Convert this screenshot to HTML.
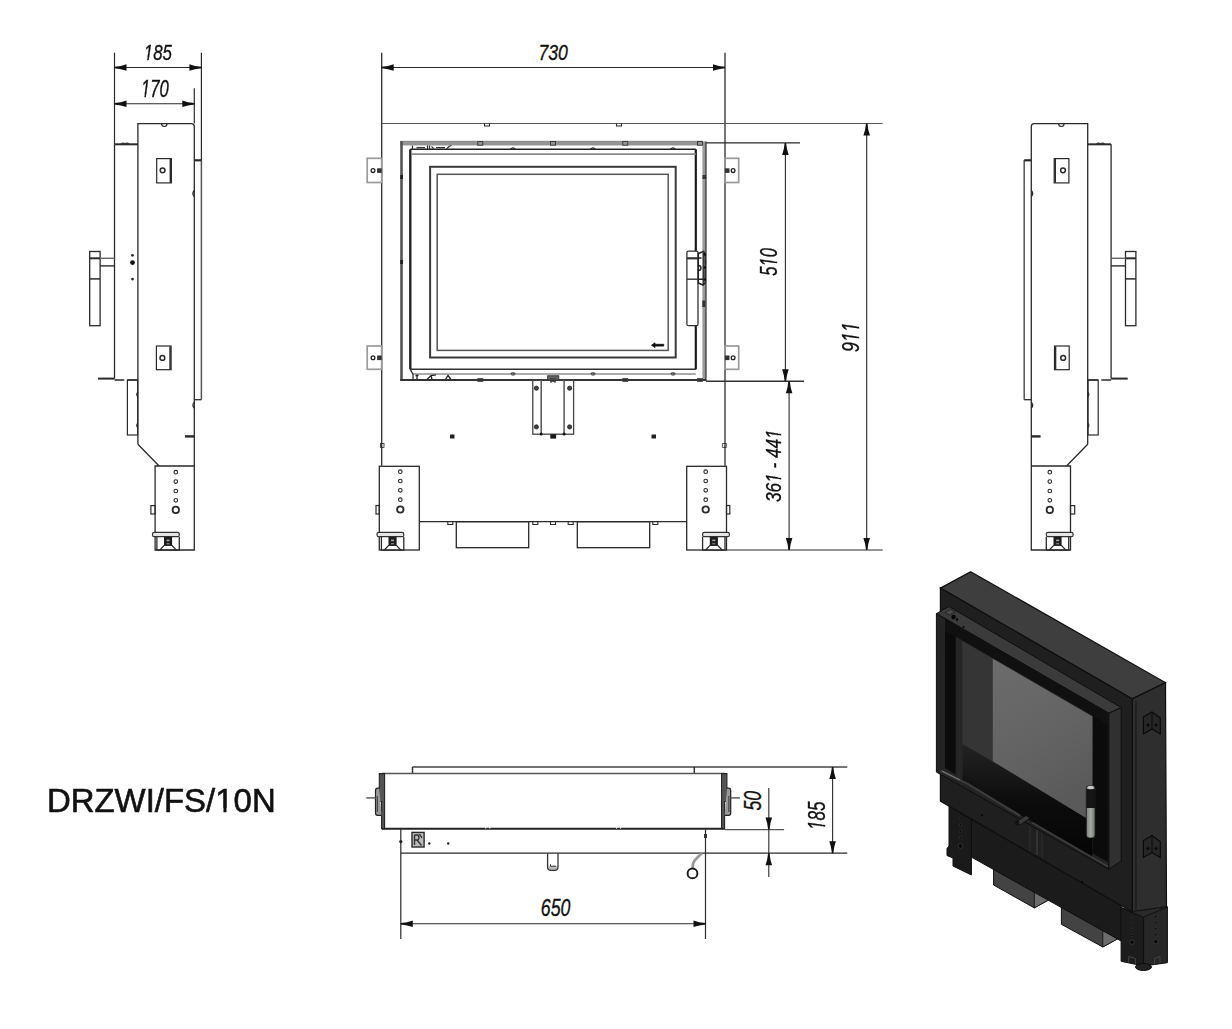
<!DOCTYPE html><html><head><meta charset="utf-8"><style>html,body{margin:0;padding:0;background:#fff;}svg{display:block;} .d{font-family:"Liberation Sans",sans-serif;font-style:italic;fill:#111;stroke:#111;stroke-width:0.35;} .t{font-family:"Liberation Sans",sans-serif;fill:#111;}</style></head><body>
<svg width="1232" height="1029" viewBox="0 0 1232 1029">
<rect width="1232" height="1029" fill="#fff"/>
<g id="side">
<path d="M137.9,444.3 L137.9,123.6 L191.3,123.6 Q194.3,123.6 194.3,126.6 L194.3,550 L155.1,550 L155.1,466 L194.3,466 M137.9,444.3 L158.6,465.5" stroke="#2a2a2a" stroke-width="1.3" fill="none"/>
<line x1="114.5" y1="144.3" x2="114.5" y2="378.6" stroke="#2a2a2a" stroke-width="1.3"/>
<line x1="114.5" y1="144.3" x2="137.9" y2="144.3" stroke="#2a2a2a" stroke-width="2.0"/>
<line x1="97.9" y1="378.6" x2="114.5" y2="378.6" stroke="#2a2a2a" stroke-width="2.0"/>
<path d="M114.5,380 L124.3,380 M127.4,380 L137.9,380" stroke="#2a2a2a" stroke-width="1.6" fill="none"/>
<rect x="127.4" y="380" width="10.2" height="55" stroke="#2a2a2a" stroke-width="1.2" fill="none"/>
<line x1="201.4" y1="160" x2="201.4" y2="399.7" stroke="#555" stroke-width="1.5"/>
<line x1="194.3" y1="399.7" x2="201.4" y2="399.7" stroke="#2a2a2a" stroke-width="1.3"/>
<line x1="194.3" y1="160.3" x2="201.4" y2="160.3" stroke="#2a2a2a" stroke-width="2.2"/>
<line x1="185" y1="436.4" x2="194.5" y2="436.4" stroke="#2a2a2a" stroke-width="2.4"/>
<rect x="156.7" y="158.6" width="14.7" height="24.3" stroke="#2a2a2a" stroke-width="1.2" fill="none"/>
<line x1="170.4" y1="159" x2="170.4" y2="182.5" stroke="#2a2a2a" stroke-width="1.6"/>
<circle cx="162.6" cy="170.3" r="2.4" stroke="#2a2a2a" stroke-width="1.5" fill="none"/>
<rect x="156.4" y="346" width="14.7" height="23.7" stroke="#2a2a2a" stroke-width="1.2" fill="none"/>
<line x1="170.1" y1="346.5" x2="170.1" y2="369.3" stroke="#2a2a2a" stroke-width="1.6"/>
<circle cx="162.4" cy="357.9" r="2.4" stroke="#2a2a2a" stroke-width="1.5" fill="none"/>
<rect x="89.7" y="251.5" width="10.4" height="74.2" stroke="#2a2a2a" stroke-width="1.3" fill="none"/>
<line x1="89.7" y1="258.3" x2="100.1" y2="258.3" stroke="#2a2a2a" stroke-width="2.0"/>
<line x1="89.7" y1="278.9" x2="100.1" y2="278.9" stroke="#2a2a2a" stroke-width="1.5"/>
<line x1="100.1" y1="258.3" x2="114.5" y2="258.3" stroke="#666" stroke-width="1.4"/>
<line x1="100.1" y1="265.9" x2="114.5" y2="265.9" stroke="#2a2a2a" stroke-width="1.4"/>
<circle cx="175.8" cy="472.2" r="1.8" stroke="#2a2a2a" stroke-width="1.1" fill="none"/>
<circle cx="175.8" cy="481.6" r="1.8" stroke="#2a2a2a" stroke-width="1.1" fill="none"/>
<circle cx="175.8" cy="491" r="1.8" stroke="#2a2a2a" stroke-width="1.1" fill="none"/>
<circle cx="175.8" cy="500.3" r="1.8" stroke="#2a2a2a" stroke-width="1.1" fill="none"/>
<circle cx="175.8" cy="509.9" r="3.2" stroke="#2a2a2a" stroke-width="1.8" fill="none"/>
<rect x="150.9" y="505.6" width="4.2" height="8.4" stroke="#2a2a2a" stroke-width="1.2" fill="none"/>
<path d="M161.5,123.6 Q161.5,126.5 164.3,126.5 Q167,126.5 167,123.6" stroke="#2a2a2a" stroke-width="1.2" fill="none"/>
<path d="M194.3,190.5 Q191.5,193.6 194.3,196.5" stroke="#2a2a2a" stroke-width="1.3" fill="none"/>
<path d="M121,144.3 Q123,141.8 125,144.3 Q127,141.8 129,144.3" stroke="#333" stroke-width="1.3" fill="none"/>
<path d="M194.3,402.5 Q191.5,405 194.3,408" stroke="#2a2a2a" stroke-width="1.3" fill="none"/>
<path d="M137.9,392 Q135.5,394.5 137.9,397 M137.9,423 Q135.5,425.5 137.9,428" stroke="#2a2a2a" stroke-width="1.1" fill="none"/>
<rect x="152.5" y="532.3" width="26.8" height="4.4" rx="1.8" fill="#e6e6e6" stroke="#333" stroke-width="1.2"/>
<path d="M156.9,536.7 L156.9,550.2 L179.3,550.2 L179.3,536.7" stroke="#2a2a2a" stroke-width="1.3" fill="none"/>
<rect x="164.0" y="536.9" width="8.1" height="8.6" fill="#1c1c1c"/>
<rect x="166.5" y="539.6" width="3" height="1.6" fill="#aaa"/>
<rect x="166.5" y="543" width="3" height="1.4" fill="#777"/>
<path d="M159.8,550 L164.0,545.5 L172.1,545.5 L176.3,550" stroke="#2a2a2a" stroke-width="1.2" fill="none"/>
</g>
<use href="#side" transform="translate(1225.6,0) scale(-1,1)"/>
<circle cx="132.5" cy="255.3" r="1.4" stroke="#2a2a2a" stroke-width="0" fill="#2a2a2a"/>
<circle cx="132.5" cy="262.6" r="2.4" stroke="#2a2a2a" stroke-width="0" fill="#111"/>
<circle cx="132.5" cy="279.1" r="1.4" stroke="#2a2a2a" stroke-width="0" fill="#2a2a2a"/>
<line x1="114.5" y1="52.7" x2="114.5" y2="144.3" stroke="#2a2a2a" stroke-width="1.2"/>
<line x1="201.4" y1="52.7" x2="201.4" y2="160" stroke="#2a2a2a" stroke-width="1.2"/>
<line x1="194.3" y1="88.3" x2="194.3" y2="123.6" stroke="#2a2a2a" stroke-width="1.2"/>
<line x1="114.5" y1="67.5" x2="201.4" y2="67.5" stroke="#2a2a2a" stroke-width="1.1"/>
<path transform="translate(114.5,67.5) rotate(90)" d="M-0.7,0 Q-1.3,-6.60 -3.3,-12 L3.3,-12 Q1.3,-6.60 0.7,0 Z" fill="#111"/>
<path transform="translate(201.4,67.5) rotate(-90)" d="M-0.7,0 Q-1.3,-6.60 -3.3,-12 L3.3,-12 Q1.3,-6.60 0.7,0 Z" fill="#111"/>
<line x1="114.5" y1="103.8" x2="194.3" y2="103.8" stroke="#2a2a2a" stroke-width="1.1"/>
<path transform="translate(114.5,103.8) rotate(90)" d="M-0.7,0 Q-1.3,-6.60 -3.3,-12 L3.3,-12 Q1.3,-6.60 0.7,0 Z" fill="#111"/>
<path transform="translate(194.3,103.8) rotate(-90)" d="M-0.7,0 Q-1.3,-6.60 -3.3,-12 L3.3,-12 Q1.3,-6.60 0.7,0 Z" fill="#111"/>
<g transform="matrix(0.00823492,0,0,0.0109731,143.77,60.1305)"><defs><mask id="m1_1" maskUnits="userSpaceOnUse" x="-2000" y="-3000" width="7417" height="6000"><rect x="-2000" y="-3000" width="7417" height="6000" fill="#fff"/><polygon points="-40.0,200.0 -40.0,-235.0 454.0,-235.0 370.0,200.0" fill="#000"/><polygon points="641.0,-235.0 1100.0,-235.0 1100.0,200.0 557.0,200.0" fill="#000"/></mask></defs><text x="0" y="0" font-size="2048" style="font-family:'Liberation Sans',sans-serif;font-style:italic;font-kerning:none;font-variant-ligatures:none" fill="#111" stroke="#111" stroke-width="31.56" mask="url(#m1_1)">185</text></g>
<g transform="matrix(0.00813243,0,0,0.0116552,141,97.1169)"><defs><mask id="m1_2" maskUnits="userSpaceOnUse" x="-2000" y="-3000" width="7417" height="6000"><rect x="-2000" y="-3000" width="7417" height="6000" fill="#fff"/><polygon points="-40.0,200.0 -40.0,-235.0 454.0,-235.0 370.0,200.0" fill="#000"/><polygon points="641.0,-235.0 1100.0,-235.0 1100.0,200.0 557.0,200.0" fill="#000"/></mask></defs><text x="0" y="0" font-size="2048" style="font-family:'Liberation Sans',sans-serif;font-style:italic;font-kerning:none;font-variant-ligatures:none" fill="#111" stroke="#111" stroke-width="30.81" mask="url(#m1_2)">170</text></g>
<line x1="381.7" y1="52.7" x2="381.7" y2="465.7" stroke="#2a2a2a" stroke-width="1.3"/>
<line x1="725" y1="52.7" x2="725" y2="465.7" stroke="#2a2a2a" stroke-width="1.3"/>
<line x1="381.7" y1="123.5" x2="882.7" y2="123.5" stroke="#555" stroke-width="1.2"/>
<line x1="381.7" y1="67.5" x2="725" y2="67.5" stroke="#2a2a2a" stroke-width="1.1"/>
<path transform="translate(381.7,67.5) rotate(90)" d="M-0.7,0 Q-1.3,-6.60 -3.3,-12 L3.3,-12 Q1.3,-6.60 0.7,0 Z" fill="#111"/>
<path transform="translate(725,67.5) rotate(-90)" d="M-0.7,0 Q-1.3,-6.60 -3.3,-12 L3.3,-12 Q1.3,-6.60 0.7,0 Z" fill="#111"/>
<g transform="matrix(0.0086261,0,0,0.0111034,538.421,60.3279)"><text x="0" y="0" font-size="2048" style="font-family:'Liberation Sans',sans-serif;font-style:italic;font-kerning:none;font-variant-ligatures:none" fill="#111" stroke="#111" stroke-width="30.65">730</text></g>
<line x1="400.2" y1="143.3" x2="702" y2="143.3" stroke="#959595" stroke-width="4.2"/>
<line x1="400.2" y1="141.3" x2="702" y2="141.3" stroke="#777" stroke-width="0.8"/>
<line x1="401.5" y1="141.2" x2="401.5" y2="380.6" stroke="#555" stroke-width="2.6"/>
<line x1="704.2" y1="141.5" x2="704.2" y2="381" stroke="#999" stroke-width="3.6"/>
<line x1="706" y1="141.5" x2="706" y2="381" stroke="#333" stroke-width="1.2"/>
<line x1="400.2" y1="380" x2="706" y2="380" stroke="#333" stroke-width="2.2"/>
<line x1="410.3" y1="149.3" x2="695.8" y2="149.3" stroke="#222" stroke-width="1.5"/>
<line x1="410.3" y1="149.3" x2="410.3" y2="369.4" stroke="#222" stroke-width="2.4"/>
<line x1="695.8" y1="149.3" x2="695.8" y2="369.4" stroke="#1a1a1a" stroke-width="2.2"/>
<line x1="410.3" y1="369.3" x2="695.8" y2="369.3" stroke="#333" stroke-width="1.6"/>
<line x1="411" y1="154.2" x2="695.8" y2="154.2" stroke="#8a8a8a" stroke-width="1.8"/>
<line x1="413" y1="374" x2="695.8" y2="374" stroke="#aaa" stroke-width="2.0"/>
<path d="M410.3,369.4 L413,374.5 L413,379" stroke="#333" stroke-width="1.3" fill="none"/>
<rect x="430.1" y="166.8" width="245.6" height="190.7" stroke="#3a3a3a" stroke-width="2.0" fill="none"/>
<rect x="437.2" y="174.3" width="231.0" height="176.1" stroke="#555" stroke-width="1.5" fill="none"/>
<path d="M651.5,345.2 L655,342.8 L655,344.3 L663.7,344.3 L663.7,346.1 L655,346.1 L655,347.6 Z" stroke="#111" stroke-width="0.8" fill="#111"/>
<rect x="367.2" y="158.3" width="14.5" height="24.2" stroke="#999" stroke-width="1.7" fill="none"/>
<rect x="367.2" y="346" width="14.5" height="23.3" stroke="#999" stroke-width="1.7" fill="none"/>
<rect x="724.9" y="158.3" width="13.8" height="24.2" stroke="#999" stroke-width="1.7" fill="none"/>
<rect x="724.9" y="346" width="13.8" height="23.3" stroke="#999" stroke-width="1.7" fill="none"/>
<circle cx="373" cy="170.6" r="1.9" stroke="#222" stroke-width="1.3" fill="none"/>
<rect x="377.1" y="168.29999999999998" width="4.6" height="4.6" stroke="#2a2a2a" stroke-width="0" fill="#333"/>
<circle cx="733.1" cy="170.6" r="1.9" stroke="#222" stroke-width="1.3" fill="none"/>
<rect x="724.9" y="168.29999999999998" width="4.6" height="4.6" stroke="#2a2a2a" stroke-width="0" fill="#333"/>
<circle cx="373" cy="357.8" r="1.9" stroke="#222" stroke-width="1.3" fill="none"/>
<rect x="377.1" y="355.5" width="4.6" height="4.6" stroke="#2a2a2a" stroke-width="0" fill="#333"/>
<circle cx="733.1" cy="357.8" r="1.9" stroke="#222" stroke-width="1.3" fill="none"/>
<rect x="724.9" y="355.5" width="4.6" height="4.6" stroke="#2a2a2a" stroke-width="0" fill="#333"/>
<rect x="532.8" y="380" width="40.8" height="54.2" stroke="#444" stroke-width="1.3" fill="none"/>
<line x1="541.2" y1="380" x2="541.2" y2="434.2" stroke="#555" stroke-width="1.5"/>
<line x1="564.1" y1="380" x2="564.1" y2="434.2" stroke="#555" stroke-width="1.5"/>
<circle cx="536.4" cy="388.2" r="2.1" stroke="#222" stroke-width="0.8" fill="#444"/>
<circle cx="569.6" cy="388.2" r="2.1" stroke="#222" stroke-width="0.8" fill="#444"/>
<circle cx="536.4" cy="426.9" r="2.1" stroke="#222" stroke-width="0.8" fill="#444"/>
<circle cx="569.6" cy="426.9" r="2.1" stroke="#222" stroke-width="0.8" fill="#444"/>
<circle cx="541.2" cy="434" r="1.5" stroke="#2a2a2a" stroke-width="0" fill="#111"/>
<circle cx="564.1" cy="434" r="1.5" stroke="#2a2a2a" stroke-width="0" fill="#111"/>
<rect x="547.7" y="375.8" width="11.0" height="4.2" stroke="#333" stroke-width="1.0" fill="#666"/>
<rect x="550.3" y="434.2" width="5.8" height="4.4" stroke="#2a2a2a" stroke-width="0" fill="#1a1a1a"/>
<path d="M551,380 L551,383 M555,380 L555,383" stroke="#333" stroke-width="1.0" fill="none"/>
<rect x="450" y="434.5" width="4.5" height="4.0" stroke="#2a2a2a" stroke-width="0" fill="#222"/>
<rect x="651.5" y="434.5" width="4.5" height="4.0" stroke="#2a2a2a" stroke-width="0" fill="#222"/>
<rect x="379.3" y="466.3" width="40.0" height="83.7" stroke="#2a2a2a" stroke-width="1.3" fill="none"/>
<rect x="686.7" y="466.3" width="39.8" height="83.7" stroke="#2a2a2a" stroke-width="1.3" fill="none"/>
<circle cx="400.3" cy="471.7" r="1.8" stroke="#2a2a2a" stroke-width="1.1" fill="none"/>
<circle cx="400.3" cy="481" r="1.8" stroke="#2a2a2a" stroke-width="1.1" fill="none"/>
<circle cx="400.3" cy="490.3" r="1.8" stroke="#2a2a2a" stroke-width="1.1" fill="none"/>
<circle cx="400.3" cy="499.7" r="1.8" stroke="#2a2a2a" stroke-width="1.1" fill="none"/>
<circle cx="400.3" cy="509.5" r="3.2" stroke="#2a2a2a" stroke-width="1.8" fill="none"/>
<circle cx="705.7" cy="471.7" r="1.8" stroke="#2a2a2a" stroke-width="1.1" fill="none"/>
<circle cx="705.7" cy="481" r="1.8" stroke="#2a2a2a" stroke-width="1.1" fill="none"/>
<circle cx="705.7" cy="490.3" r="1.8" stroke="#2a2a2a" stroke-width="1.1" fill="none"/>
<circle cx="705.7" cy="499.7" r="1.8" stroke="#2a2a2a" stroke-width="1.1" fill="none"/>
<circle cx="705.7" cy="509.5" r="3.2" stroke="#2a2a2a" stroke-width="1.8" fill="none"/>
<rect x="376" y="505.5" width="3.3" height="8.5" stroke="#2a2a2a" stroke-width="1.2" fill="none"/>
<rect x="726.5" y="505.5" width="3.3" height="8.5" stroke="#2a2a2a" stroke-width="1.2" fill="none"/>
<rect x="377" y="532.3" width="26.8" height="4.4" rx="1.8" fill="#e6e6e6" stroke="#333" stroke-width="1.2"/>
<path d="M381.4,536.7 L381.4,550.2 L403.8,550.2 L403.8,536.7" stroke="#2a2a2a" stroke-width="1.3" fill="none"/>
<rect x="388.5" y="536.9" width="8.1" height="8.6" fill="#1c1c1c"/>
<rect x="391.0" y="539.6" width="3" height="1.6" fill="#aaa"/>
<rect x="391.0" y="543" width="3" height="1.4" fill="#777"/>
<path d="M384.3,550 L388.5,545.5 L396.6,545.5 L400.8,550" stroke="#2a2a2a" stroke-width="1.2" fill="none"/>
<rect x="702.6" y="532.3" width="26.8" height="4.4" rx="1.8" fill="#e6e6e6" stroke="#333" stroke-width="1.2"/>
<path d="M702.6,536.7 L702.6,550.2 L725.0,550.2 L725.0,536.7" stroke="#2a2a2a" stroke-width="1.3" fill="none"/>
<rect x="709.8" y="536.9" width="8.1" height="8.6" fill="#1c1c1c"/>
<rect x="712.3" y="539.6" width="3" height="1.6" fill="#aaa"/>
<rect x="712.3" y="543" width="3" height="1.4" fill="#777"/>
<path d="M705.6,550 L709.8,545.5 L717.9,545.5 L722.1,550" stroke="#2a2a2a" stroke-width="1.2" fill="none"/>
<path d="M484.5,123.5 L484.5,126 L489.5,126 L489.5,123.5" stroke="#2a2a2a" stroke-width="1.1" fill="none"/>
<path d="M616.5,123.5 L616.5,126 L621.5,126 L621.5,123.5" stroke="#2a2a2a" stroke-width="1.1" fill="none"/>
<rect x="477.8" y="141.5" width="5.0" height="3.7" stroke="#333" stroke-width="0.9" fill="none"/>
<rect x="550.5" y="141.5" width="5.0" height="3.7" stroke="#333" stroke-width="0.9" fill="none"/>
<rect x="622.8" y="141.5" width="5.0" height="3.7" stroke="#333" stroke-width="0.9" fill="none"/>
<rect x="697.5" y="141.5" width="5.0" height="3.7" stroke="#333" stroke-width="0.9" fill="none"/>
<path d="M510.8,149.3 Q513,146.5 515.2,149.3" stroke="#222" stroke-width="1.4" fill="none"/>
<path d="M590.8,149.3 Q593,146.5 595.2,149.3" stroke="#222" stroke-width="1.4" fill="none"/>
<path d="M670.8,149.3 Q673,146.5 675.2,149.3" stroke="#222" stroke-width="1.4" fill="none"/>
<rect x="477.8" y="378.5" width="5.0" height="3.0" stroke="#444" stroke-width="0.9" fill="none"/>
<rect x="550.5" y="378.5" width="5.0" height="3.0" stroke="#444" stroke-width="0.9" fill="none"/>
<rect x="622.8" y="378.5" width="5.0" height="3.0" stroke="#444" stroke-width="0.9" fill="none"/>
<rect x="697.5" y="378.5" width="5.0" height="3.0" stroke="#444" stroke-width="0.9" fill="none"/>
<path d="M510.8,374 Q513,371.8 515.2,374 M511.5,375 L514.5,375" stroke="#333" stroke-width="1.2" fill="none"/>
<path d="M590.8,374 Q593,371.8 595.2,374 M591.5,375 L594.5,375" stroke="#333" stroke-width="1.2" fill="none"/>
<path d="M670.8,374 Q673,371.8 675.2,374 M671.5,375 L674.5,375" stroke="#333" stroke-width="1.2" fill="none"/>
<rect x="400.2" y="175" width="2.8" height="4" stroke="#2a2a2a" stroke-width="0" fill="#222"/>
<rect x="702.5" y="175" width="3.7" height="4" stroke="#2a2a2a" stroke-width="0" fill="#333"/>
<rect x="400.2" y="260" width="2.8" height="4" stroke="#2a2a2a" stroke-width="0" fill="#222"/>
<rect x="702.5" y="260" width="3.7" height="4" stroke="#2a2a2a" stroke-width="0" fill="#333"/>
<rect x="380.5" y="443.5" width="3.5" height="4.0" stroke="#2a2a2a" stroke-width="0.8" fill="none"/>
<rect x="722.7" y="443.5" width="3.5" height="4.0" stroke="#2a2a2a" stroke-width="0.8" fill="none"/>
<path d="M412.5,145.5 L412.5,149 M416.5,147.6 L425,147.6 M427.5,145.5 L427.5,149 M429.5,145.5 L429.5,149 M431.5,146.5 L434,149 M436,147.6 L445,147.6 M446.5,149 L449,146.5 L451.5,145.5" stroke="#333" stroke-width="1.2" fill="none"/>
<path d="M417,375 L417,379.5 M415.5,375.5 L418.5,375.5 M427,379.5 L431,375.5 L436,374.8 M432,379.5 L431,375.5 M445.5,379.5 L448,375.5 L451,379.5" stroke="#222" stroke-width="1.3" fill="none"/>
<rect x="686.9" y="251.2" width="11.1" height="74.5" rx="1.5" fill="#fff" stroke="#333" stroke-width="1.3"/>
<path d="M698.3,253.5 L703.5,251.5 L705,254 L705,283 L703,285 L698.3,283 Z" fill="#fff" stroke="#222" stroke-width="1.5"/>
<path d="M703.2,253 L703.2,284 M698.3,258 L701.5,258 M698.3,265.5 Q701,265.5 701,268 Q701,270.5 698.3,270.5 M698.3,279.2 L702.5,279.2" stroke="#222" stroke-width="1.4" fill="none"/>
<circle cx="704.8" cy="254.5" r="1.3" stroke="#2a2a2a" stroke-width="0" fill="#111"/>
<circle cx="704.8" cy="267.5" r="1.3" stroke="#2a2a2a" stroke-width="0" fill="#111"/>
<circle cx="704.8" cy="279.5" r="1.3" stroke="#2a2a2a" stroke-width="0" fill="#111"/>
<rect x="702.3" y="300.5" width="2.9" height="6.5" stroke="#2a2a2a" stroke-width="0" fill="#333"/>
<line x1="686.9" y1="258.3" x2="698" y2="258.3" stroke="#333" stroke-width="2.2"/>
<line x1="686.9" y1="279.2" x2="698" y2="279.2" stroke="#333" stroke-width="1.4"/>
<line x1="419.3" y1="521.7" x2="686.7" y2="521.7" stroke="#2a2a2a" stroke-width="1.3"/>
<path d="M447.8,521.7 L447.8,524.5 L452.8,524.5 L452.8,521.7" stroke="#2a2a2a" stroke-width="1.1" fill="none"/>
<path d="M532.8,521.7 L532.8,524.5 L537.8,524.5 L537.8,521.7" stroke="#2a2a2a" stroke-width="1.1" fill="none"/>
<path d="M550.5,521.7 L550.5,524.5 L555.5,524.5 L555.5,521.7" stroke="#2a2a2a" stroke-width="1.1" fill="none"/>
<path d="M568.2,521.7 L568.2,524.5 L573.2,524.5 L573.2,521.7" stroke="#2a2a2a" stroke-width="1.1" fill="none"/>
<path d="M652.8,521.7 L652.8,524.5 L657.8,524.5 L657.8,521.7" stroke="#2a2a2a" stroke-width="1.1" fill="none"/>
<rect x="456.3" y="521.7" width="72.4" height="26.0" stroke="#2a2a2a" stroke-width="1.3" fill="none"/>
<rect x="577.3" y="521.7" width="72.4" height="26.0" stroke="#2a2a2a" stroke-width="1.3" fill="none"/>
<line x1="706" y1="142.9" x2="800" y2="142.9" stroke="#2a2a2a" stroke-width="1.2"/>
<line x1="706" y1="381.3" x2="804" y2="381.3" stroke="#333" stroke-width="1.4"/>
<line x1="726.5" y1="550" x2="882.7" y2="550" stroke="#2a2a2a" stroke-width="1.2"/>
<line x1="785.4" y1="142.9" x2="785.4" y2="381.2" stroke="#2a2a2a" stroke-width="1.1"/>
<path transform="translate(785.4,142.9) rotate(180)" d="M-0.7,0 Q-1.3,-6.60 -3.3,-12 L3.3,-12 Q1.3,-6.60 0.7,0 Z" fill="#111"/>
<path transform="translate(785.4,381.2) rotate(0)" d="M-0.7,0 Q-1.3,-6.60 -3.3,-12 L3.3,-12 Q1.3,-6.60 0.7,0 Z" fill="#111"/>
<line x1="789.1" y1="381.2" x2="789.1" y2="550" stroke="#2a2a2a" stroke-width="1.1"/>
<path transform="translate(789.1,381.2) rotate(180)" d="M-0.7,0 Q-1.3,-6.60 -3.3,-12 L3.3,-12 Q1.3,-6.60 0.7,0 Z" fill="#111"/>
<path transform="translate(789.1,550) rotate(0)" d="M-0.7,0 Q-1.3,-6.60 -3.3,-12 L3.3,-12 Q1.3,-6.60 0.7,0 Z" fill="#111"/>
<line x1="866.7" y1="123.5" x2="866.7" y2="550" stroke="#2a2a2a" stroke-width="1.1"/>
<path transform="translate(866.7,123.5) rotate(180)" d="M-0.7,0 Q-1.3,-6.60 -3.3,-12 L3.3,-12 Q1.3,-6.60 0.7,0 Z" fill="#111"/>
<path transform="translate(866.7,550) rotate(0)" d="M-0.7,0 Q-1.3,-6.60 -3.3,-12 L3.3,-12 Q1.3,-6.60 0.7,0 Z" fill="#111"/>
<g transform="matrix(0,-0.00810972,0.0113793,0,777.222,275.823)"><defs><mask id="m1_3" maskUnits="userSpaceOnUse" x="-2000" y="-3000" width="7417" height="6000"><rect x="-2000" y="-3000" width="7417" height="6000" fill="#fff"/><polygon points="1099.0,200.0 1099.0,-235.0 1593.0,-235.0 1509.0,200.0" fill="#000"/><polygon points="1780.0,-235.0 2239.0,-235.0 2239.0,200.0 1696.0,200.0" fill="#000"/></mask></defs><text x="0" y="0" font-size="2048" style="font-family:'Liberation Sans',sans-serif;font-style:italic;font-kerning:none;font-variant-ligatures:none" fill="#111" stroke="#111" stroke-width="31.23" mask="url(#m1_3)">510</text></g>
<g transform="matrix(0,-0.00871545,0.0117241,0,859.316,351.96)"><defs><mask id="m1_4" maskUnits="userSpaceOnUse" x="-2000" y="-3000" width="7417" height="6000"><rect x="-2000" y="-3000" width="7417" height="6000" fill="#fff"/><polygon points="1099.0,200.0 1099.0,-235.0 1593.0,-235.0 1509.0,200.0" fill="#000"/><polygon points="1780.0,-235.0 2239.0,-235.0 2239.0,200.0 1696.0,200.0" fill="#000"/><polygon points="2238.0,200.0 2238.0,-235.0 2732.0,-235.0 2648.0,200.0" fill="#000"/><polygon points="2919.0,-235.0 3378.0,-235.0 3378.0,200.0 2835.0,200.0" fill="#000"/></mask></defs><text x="0" y="0" font-size="2048" style="font-family:'Liberation Sans',sans-serif;font-style:italic;font-kerning:none;font-variant-ligatures:none" fill="#111" stroke="#111" stroke-width="29.68" mask="url(#m1_4)">911</text></g>
<g transform="matrix(0,-0.00839933,0.0106207,0,780.538,501.953)"><defs><mask id="m1_5" maskUnits="userSpaceOnUse" x="-2000" y="-3000" width="12654" height="6000"><rect x="-2000" y="-3000" width="12654" height="6000" fill="#fff"/><polygon points="2238.0,200.0 2238.0,-235.0 2732.0,-235.0 2648.0,200.0" fill="#000"/><polygon points="2919.0,-235.0 3378.0,-235.0 3378.0,200.0 2835.0,200.0" fill="#000"/><polygon points="7475.0,200.0 7475.0,-235.0 7969.0,-235.0 7885.0,200.0" fill="#000"/><polygon points="8156.0,-235.0 8615.0,-235.0 8615.0,200.0 8072.0,200.0" fill="#000"/></mask></defs><text x="0" y="0" font-size="2048" style="font-family:'Liberation Sans',sans-serif;font-style:italic;font-kerning:none;font-variant-ligatures:none" fill="#111" stroke="#111" stroke-width="31.76" mask="url(#m1_5)">361 - 441</text></g>
<line x1="412.5" y1="767" x2="847.3" y2="767" stroke="#444" stroke-width="1.3"/>
<line x1="694.3" y1="767" x2="694.3" y2="773.6" stroke="#2a2a2a" stroke-width="1.4"/>
<line x1="412.5" y1="767" x2="412.5" y2="773.6" stroke="#2a2a2a" stroke-width="1.4"/>
<line x1="382" y1="773.6" x2="724.5" y2="773.6" stroke="#555" stroke-width="1.5"/>
<line x1="382" y1="828.7" x2="724.8" y2="828.7" stroke="#222" stroke-width="2.0"/>
<g id="pside">
<path d="M379.3,773.6 L384.6,773.6 L384.6,828.7 L381.6,828.7 L381.6,801.5 L379.3,801.5 Z" fill="#555" stroke="#222" stroke-width="1.1"/>
<path d="M379.3,788.2 L377.5,788.2 Q375.5,788.2 375.5,790.5 L375.5,813 Q375.5,815.4 377.5,815.4 L381.6,815.4" fill="#999" stroke="#222" stroke-width="1.2"/>
<path d="M377.3,796 L377.3,812" stroke="#333" stroke-width="1.0" fill="none"/>
<line x1="366.3" y1="797.9" x2="375.5" y2="797.9" stroke="#666" stroke-width="1.6"/>
</g>
<use href="#pside" transform="translate(1106.2,0) scale(-1,1)"/>
<line x1="724.8" y1="829.6" x2="784.1" y2="829.6" stroke="#555" stroke-width="1.2"/>
<path d="M485.8,828.7 L485.8,826.5 L489.8,826.5 L489.8,828.7" stroke="#fff" stroke-width="1.0" fill="none"/>
<path d="M616.6,828.7 L616.6,826.5 L620.6,826.5 L620.6,828.7" stroke="#fff" stroke-width="1.0" fill="none"/>
<line x1="400.8" y1="853.2" x2="847.3" y2="853.2" stroke="#2a2a2a" stroke-width="1.3"/>
<line x1="400.8" y1="828.7" x2="400.8" y2="939" stroke="#2a2a2a" stroke-width="1.2"/>
<line x1="705.5" y1="829.6" x2="705.5" y2="939" stroke="#2a2a2a" stroke-width="1.2"/>
<line x1="400.8" y1="923.7" x2="705.5" y2="923.7" stroke="#2a2a2a" stroke-width="1.1"/>
<path transform="translate(400.8,923.7) rotate(90)" d="M-0.7,0 Q-1.3,-6.60 -3.3,-12 L3.3,-12 Q1.3,-6.60 0.7,0 Z" fill="#111"/>
<path transform="translate(705.5,923.7) rotate(-90)" d="M-0.7,0 Q-1.3,-6.60 -3.3,-12 L3.3,-12 Q1.3,-6.60 0.7,0 Z" fill="#111"/>
<g transform="matrix(0.0086758,0,0,0.0118621,540.752,916.413)"><text x="0" y="0" font-size="2048" style="font-family:'Liberation Sans',sans-serif;font-style:italic;font-kerning:none;font-variant-ligatures:none" fill="#111" stroke="#111" stroke-width="29.57">650</text></g>
<rect x="412" y="832.4" width="12.1" height="14.6" stroke="#2a2a2a" stroke-width="1.4" fill="#bbb"/>
<path d="M414.5,835 L414.5,845 M414.5,835 L418,835 Q420,837.5 418,840 L414.5,840 M417,840 L421.5,845.5 M419.5,834 L422,838" stroke="#333" stroke-width="1.4" fill="none"/>
<circle cx="400.8" cy="841.6" r="1.6" stroke="#2a2a2a" stroke-width="0" fill="#222"/>
<rect x="704" y="834" width="3" height="4" stroke="#2a2a2a" stroke-width="0" fill="#333"/>
<circle cx="429.3" cy="843.5" r="1.2" stroke="#2a2a2a" stroke-width="0" fill="#222"/>
<circle cx="448.2" cy="843.5" r="1.2" stroke="#2a2a2a" stroke-width="0" fill="#222"/>
<path d="M548.4,866 L557.3,866 L557.3,867.5 Q557.3,870 554.6,870 L551,870 Q548.4,870 548.4,867.5 Z" fill="#bbb"/>
<path d="M547.6,853.2 L547.6,867 Q547.6,870.3 551,870.3 L554.6,870.3 Q558,870.3 558,867 L558,853.2" stroke="#333" stroke-width="1.3" fill="none"/>
<path d="M550.5,864.2 L550.5,866.2 L556,866.2" stroke="#333" stroke-width="1.0" fill="none"/>
<path d="M692.8,868 Q692.3,862.5 696,859 L701.5,853.6" stroke="#9a9a9a" stroke-width="2.8" fill="none"/>
<circle cx="692.5" cy="873.4" r="4.9" stroke="#1a1a1a" stroke-width="1.9" fill="none"/>
<line x1="768.8" y1="787.9" x2="768.8" y2="877" stroke="#2a2a2a" stroke-width="1.1"/>
<path transform="translate(768.8,829.6) rotate(0)" d="M-0.7,0 Q-1.3,-6.60 -3.3,-12 L3.3,-12 Q1.3,-6.60 0.7,0 Z" fill="#111"/>
<path transform="translate(768.8,853.2) rotate(180)" d="M-0.7,0 Q-1.3,-6.60 -3.3,-12 L3.3,-12 Q1.3,-6.60 0.7,0 Z" fill="#111"/>
<line x1="832.6" y1="767" x2="832.6" y2="853.2" stroke="#2a2a2a" stroke-width="1.1"/>
<path transform="translate(832.6,767) rotate(180)" d="M-0.7,0 Q-1.3,-6.60 -3.3,-12 L3.3,-12 Q1.3,-6.60 0.7,0 Z" fill="#111"/>
<path transform="translate(832.6,853.2) rotate(0)" d="M-0.7,0 Q-1.3,-6.60 -3.3,-12 L3.3,-12 Q1.3,-6.60 0.7,0 Z" fill="#111"/>
<g transform="matrix(0,-0.00862302,0.0112414,0,761.325,810.447)"><text x="0" y="0" font-size="2048" style="font-family:'Liberation Sans',sans-serif;font-style:italic;font-kerning:none;font-variant-ligatures:none" fill="#111" stroke="#111" stroke-width="30.47">50</text></g>
<g transform="matrix(0,-0.00833067,0.0114562,0,824.521,829.958)"><defs><mask id="m1_6" maskUnits="userSpaceOnUse" x="-2000" y="-3000" width="7417" height="6000"><rect x="-2000" y="-3000" width="7417" height="6000" fill="#fff"/><polygon points="-40.0,200.0 -40.0,-235.0 454.0,-235.0 370.0,200.0" fill="#000"/><polygon points="641.0,-235.0 1100.0,-235.0 1100.0,200.0 557.0,200.0" fill="#000"/></mask></defs><text x="0" y="0" font-size="2048" style="font-family:'Liberation Sans',sans-serif;font-style:italic;font-kerning:none;font-variant-ligatures:none" fill="#111" stroke="#111" stroke-width="30.71" mask="url(#m1_6)">185</text></g>
<g transform="matrix(0.0160858,0,0,0.0163564,46.8976,812.273)"><defs><mask id="m1_7" maskUnits="userSpaceOnUse" x="-2000" y="-3000" width="18223" height="6000"><rect x="-2000" y="-3000" width="18223" height="6000" fill="#fff"/><polygon points="10526.0,200.0 10526.0,-250.0 10976.0,-250.0 10976.0,200.0" fill="#000"/><polygon points="11167.0,-250.0 11566.0,-250.0 11566.0,200.0 11167.0,200.0" fill="#000"/></mask></defs><text x="0" y="0" font-size="2048" style="font-family:'Liberation Sans',sans-serif;font-style:normal;font-kerning:none;font-variant-ligatures:none" fill="#111" stroke="#111" stroke-width="36.99" mask="url(#m1_7)">DRZWI/FS/10N</text></g>
<defs><linearGradient id="gl" x1="0" y1="0" x2="0.35" y2="1"><stop offset="0" stop-color="#6c6c6c"/><stop offset="0.6" stop-color="#636363"/><stop offset="1" stop-color="#5a5a5a"/></linearGradient><linearGradient id="gd" x1="0" y1="0" x2="0.3" y2="1"><stop offset="0" stop-color="#333"/><stop offset="0.7" stop-color="#2c2c2c"/><stop offset="1" stop-color="#111"/></linearGradient><linearGradient id="hd" x1="0" y1="0" x2="1" y2="0"><stop offset="0" stop-color="#7d827b"/><stop offset="0.5" stop-color="#a4a8a2"/><stop offset="1" stop-color="#70746e"/></linearGradient></defs>
<g id="iso">
<polygon points="993.6,860 1034.3,883 1048.6,875 1048.6,900 1034.3,907.9 993.6,885" fill="#434343" stroke="#0e0e0e" stroke-width="1"/>
<polygon points="1034.3,883 1048.6,875 1048.6,900 1034.3,907.9" fill="#6c6c6c" stroke="#0e0e0e" stroke-width="0.8"/>
<polygon points="1061.4,899 1102.8,922 1117.7,914 1117.7,938.8 1102.8,947 1061.4,924.3" fill="#434343" stroke="#0e0e0e" stroke-width="1"/>
<polygon points="1102.8,922 1117.7,914 1117.7,938.8 1102.8,947" fill="#6c6c6c" stroke="#0e0e0e" stroke-width="0.8"/>
<polygon points="971.4,819 1121.1,905.4 1121.1,941 971.4,857.1" fill="#1b1b1b" stroke="#0e0e0e" stroke-width="1"/>
<polygon points="949,806 971.4,819 971.4,875 953,866 953,858 947,855.5 947,848.5 949,846" fill="#1a1a1a" stroke="#0e0e0e" stroke-width="1"/>
<polygon points="970.7,571.7 1165.5,682.6 1132.3,698.9 940.4,588.1" fill="#3e3e3e" stroke="#0e0e0e" stroke-width="1.2"/>
<polygon points="1132.3,698.9 1165.5,682.6 1166.5,906.5 1132.3,912" fill="#2e2e2e" stroke="#0e0e0e" stroke-width="1.2"/>
<line x1="1136" y1="701" x2="1136" y2="910" stroke="#1a1a1a" stroke-width="1.2"/>
<polygon points="940.4,588.1 1132.3,698.9 1132.3,912 940.4,801.1" fill="#1f1f1f" stroke="#0e0e0e" stroke-width="1.2"/>
<polygon points="1121.1,907.6 1143.6,917 1143.6,966 1121.1,961.3" fill="#1c1c1c" stroke="#0e0e0e" stroke-width="1"/>
<polygon points="1143.6,917 1167.4,906.9 1167.4,962.7 1143.6,966" fill="#272727" stroke="#0e0e0e" stroke-width="1"/>
<polygon points="1121.1,907.6 1132.3,911.5 1167.4,906.9 1143.6,917" fill="#2a2a2a" stroke="#0e0e0e" stroke-width="0.8"/>
<polygon points="936.4,613.6 949,606.5 1121.2,707.6 1108.7,713.2" fill="#3b3b3b" stroke="#0e0e0e" stroke-width="1"/>
<polygon points="1108.7,713.2 1121.2,707.6 1121.2,861 1108.7,869.3" fill="#303030" stroke="#0e0e0e" stroke-width="1"/>
<polygon points="936.4,613.6 1108.7,713.2 1108.7,869.3 936.4,772.1" fill="#232323" stroke="#0e0e0e" stroke-width="1"/>
<polygon points="945,619 1107.8,713 1107.8,724 945,630" fill="#101010" stroke="none" stroke-width="0.8"/>
<polygon points="945,630 1107.8,724 1107.8,862 945,768" fill="#0b0b0b" stroke="none" stroke-width="0.8"/>
<polygon points="955.7,636.5 1092.4,715.5 1092.4,856 955.7,777" fill="#262626" stroke="none" stroke-width="0.8"/>
<polygon points="962.4,641 1092.4,716.2 1092.4,850 962.4,775" fill="#353535" stroke="none" stroke-width="0.8"/>
<polygon points="992.8,658.8 1092.4,716.4 1092.4,822 992.8,761.5" fill="url(#gl)" stroke="none" stroke-width="0.8"/>
<defs><linearGradient id="gb" x1="0" y1="0" x2="0" y2="1"><stop offset="0" stop-color="#1a1a1a" stop-opacity="0.7"/><stop offset="0.5" stop-color="#0c0c0c"/><stop offset="1" stop-color="#050505"/></linearGradient></defs>
<polygon points="962.4,744 992.8,761.5 1092.4,822 1092.4,858 962.4,780" fill="url(#gb)" stroke="none" stroke-width="0.8"/>
<path d="M940,770.5 L968.6,784.3 L1020,815.7 M1032,822.5 L1108,866.5" stroke="#3c3c3c" stroke-width="2.0" fill="none"/>
<path d="M942,771 L960,780" stroke="#777" stroke-width="1.2" fill="none"/>
<polygon points="1016,822 1026,815.5 1030,818 1020,825" fill="#3a3a3a" stroke="#0a0a0a" stroke-width="0.8"/>
<circle cx="1017" cy="823" r="2.3" stroke="#2a2a2a" stroke-width="0" fill="#111"/>
<line x1="1030" y1="826" x2="1030" y2="851" stroke="#2e2e2e" stroke-width="1"/>
<line x1="1037" y1="830" x2="1037" y2="855" stroke="#3a3a3a" stroke-width="1.5"/>
<line x1="1042" y1="833" x2="1042" y2="858" stroke="#2e2e2e" stroke-width="1"/>
<circle cx="982" cy="815" r="1.1" stroke="#2a2a2a" stroke-width="0" fill="#050505"/>
<circle cx="1082" cy="882" r="1.1" stroke="#2a2a2a" stroke-width="0" fill="#050505"/>
<polygon points="945,612.5 950.5,609.3 955,611.8 949.5,615" fill="#4a4a4a" stroke="#111" stroke-width="0.6"/>
<circle cx="953.5" cy="617" r="2.2" stroke="#2a2a2a" stroke-width="0" fill="#050505"/>
<circle cx="957" cy="619.5" r="1.2" stroke="#2a2a2a" stroke-width="0" fill="#050505"/>
<circle cx="963.5" cy="627" r="1.0" stroke="#2a2a2a" stroke-width="0" fill="#050505"/>
<rect x="1086.3" y="785.6" width="8.8" height="52.4" rx="3" fill="url(#hd)" stroke="#111" stroke-width="0.8"/>
<rect x="1086.3" y="789" width="8.8" height="19" fill="#151515"/>
<ellipse cx="1090.7" cy="787.5" rx="3" ry="1.8" fill="#c8c8c8"/>
<polygon points="1143.4,717 1152,712 1160.3,718 1160.3,734 1152,729 1143.4,734" fill="#262626" stroke="#0a0a0a" stroke-width="1.2"/>
<line x1="1152" y1="712" x2="1152" y2="729" stroke="#0a0a0a" stroke-width="1"/>
<circle cx="1148" cy="725" r="1.5" stroke="#2a2a2a" stroke-width="0" fill="#0a0a0a"/>
<circle cx="1156" cy="725" r="1.5" stroke="#2a2a2a" stroke-width="0" fill="#0a0a0a"/>
<polygon points="1143.4,840.5 1152,835.5 1160.3,841.5 1160.3,857.5 1152,852.5 1143.4,857.5" fill="#262626" stroke="#0a0a0a" stroke-width="1.2"/>
<line x1="1152" y1="835.5" x2="1152" y2="852.5" stroke="#0a0a0a" stroke-width="1"/>
<circle cx="1148" cy="848.5" r="1.5" stroke="#2a2a2a" stroke-width="0" fill="#0a0a0a"/>
<circle cx="1156" cy="848.5" r="1.5" stroke="#2a2a2a" stroke-width="0" fill="#0a0a0a"/>
<circle cx="960.5" cy="818.5" r="1.3" stroke="#3a3a3a" stroke-width="0.6" fill="#050505"/>
<circle cx="960.5" cy="825" r="1.3" stroke="#3a3a3a" stroke-width="0.6" fill="#050505"/>
<circle cx="960.5" cy="831.5" r="1.3" stroke="#3a3a3a" stroke-width="0.6" fill="#050505"/>
<circle cx="960.5" cy="838" r="1.3" stroke="#3a3a3a" stroke-width="0.6" fill="#050505"/>
<circle cx="960.5" cy="846" r="2.4" stroke="#3a3a3a" stroke-width="0.8" fill="#080808"/>
<circle cx="1132" cy="917" r="1.2" stroke="#3a3a3a" stroke-width="0.6" fill="#050505"/>
<circle cx="1155.8" cy="916.4" r="1.2" stroke="#3a3a3a" stroke-width="0.6" fill="#050505"/>
<circle cx="1132" cy="923.2" r="1.2" stroke="#3a3a3a" stroke-width="0.6" fill="#050505"/>
<circle cx="1155.8" cy="922.6" r="1.2" stroke="#3a3a3a" stroke-width="0.6" fill="#050505"/>
<circle cx="1132" cy="929.3" r="1.2" stroke="#3a3a3a" stroke-width="0.6" fill="#050505"/>
<circle cx="1155.8" cy="928.6999999999999" r="1.2" stroke="#3a3a3a" stroke-width="0.6" fill="#050505"/>
<circle cx="1132" cy="935.4" r="1.2" stroke="#3a3a3a" stroke-width="0.6" fill="#050505"/>
<circle cx="1155.8" cy="934.8" r="1.2" stroke="#3a3a3a" stroke-width="0.6" fill="#050505"/>
<circle cx="1132" cy="942.2" r="2.3" stroke="#3a3a3a" stroke-width="0.9" fill="#080808"/>
<circle cx="1155.8" cy="941.6" r="2.3" stroke="#3a3a3a" stroke-width="0.9" fill="#080808"/>
<path d="M1128.6,962.5 L1128.6,956.5 L1135.4,958.5 L1135.4,964.5 M1154.5,964.5 L1154.5,958.5 L1160,956.5 L1160,962.5" stroke="#444" stroke-width="1.0" fill="none"/>
<ellipse cx="1143.5" cy="967" rx="8" ry="3.5" fill="#222" stroke="#0a0a0a" stroke-width="1"/>
</g>
</svg></body></html>
